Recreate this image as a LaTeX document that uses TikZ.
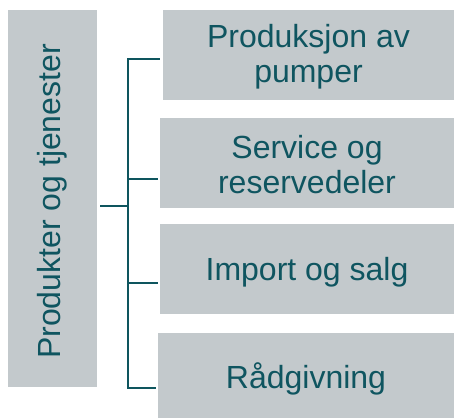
\documentclass[tikz,border=0pt]{standalone}
\usepackage{fontspec}
\setmainfont{Liberation Sans}
\definecolor{boxfill}{HTML}{C3C9CC}
\definecolor{txt}{HTML}{0F5560}
\definecolor{conncol}{HTML}{0E555E}
\begin{document}
\begin{tikzpicture}[x=1pt,y=-1pt,
  box/.style={fill=boxfill,draw=none,inner sep=0pt},
  lbl/.style={text=txt,align=center,inner sep=0pt,font=\fontsize{32}{35}\selectfont},
  conn/.style={draw=conncol,line width=2pt}]
\useasboundingbox (0,0) rectangle (454,418);
\node[box,minimum width=89pt,minimum height=377pt] (L) at (52.5,198.5) {};
\node[lbl,rotate=90] (Lt) at ([yshift=-3pt]L.center) {Produkter og tjenester};
\node[box,minimum width=291pt,minimum height=90pt] (B1) at (308.5,55) {};
\node[box,minimum width=294pt,minimum height=90pt] (B2) at (307,163) {};
\node[box,minimum width=294pt,minimum height=90pt] (B3) at (307,269) {};
\node[box,minimum width=296pt,minimum height=85pt] (B4) at (306,375.5) {};
\node[lbl] (T1) at ([yshift=-2pt]B1.center) {Produksjon av\\pumper};
\node[lbl] (T2) at ([yshift=-2pt]B2.center) {Service og\\reservedeler};
\node[lbl] (T3) at ([yshift=-3pt]B3.center) {Import og salg};
\node[lbl] (T4) at ([yshift=-3pt]B4.center) {Rådgivning};
\coordinate (top) at (128,59);
\coordinate (bot) at (128,388);
\draw[conn] ([xshift=-3pt,yshift=-4pt]B1.west) -- (top) -- (bot) -- ([xshift=-2pt,yshift=-12.5pt]B4.west);
\draw[conn] ([xshift=3pt,yshift=-7.5pt]L.east) -- ++(28,0);
\draw[conn] ([xshift=-2pt,yshift=-16pt]B2.west) -- ++(-30,0);
\draw[conn] ([xshift=-2pt,yshift=-14pt]B3.west) -- ++(-30,0);
\end{tikzpicture}
\end{document}
